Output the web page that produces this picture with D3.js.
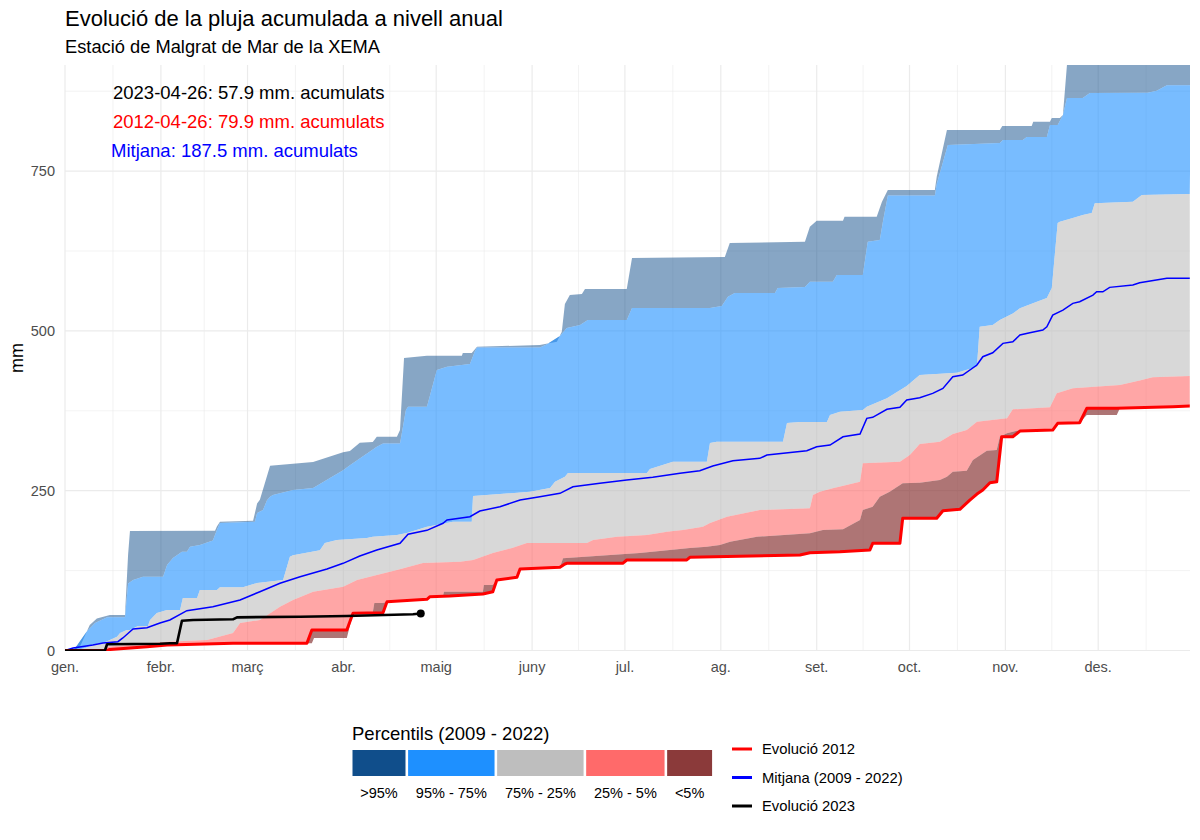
<!DOCTYPE html>
<html>
<head>
<meta charset="utf-8">
<script src="https://cdn.jsdelivr.net/npm/d3@7"></script>
<style>
  body { margin: 0; background: #fff; }
  svg { font-family: "Liberation Sans", Arial, sans-serif; }
</style>
</head>
<body>
<svg id="chart" width="1200" height="840"></svg>
<script>
// Month labels (Catalan) and y ticks
const months = ["gen.", "febr.", "març", "abr.", "maig", "juny", "jul.", "ag.", "set.", "oct.", "nov.", "des."];
const yTicks = [0, 250, 500, 750];
const yMinor = [125, 375, 625, 875];

// Percentile boundaries, [day of year, mm]
const pMax = [[0,0],[3.2,0],[5.0,8],[8.0,40],[10.3,50],[14.5,55.5],[19.4,55.5],[20.4,150],[21.0,187],[48.5,187.5],[49.1,194],[50.1,201.5],[60.8,203],[61.4,215],[62.1,230],[63.0,236],[66.3,289],[80.2,295],[89.9,310],[92.1,312],[95.3,325],[99.5,326],[100.8,334.4],[107.3,334.4],[108.3,345],[109.6,457.5],[117.0,461.1],[128.3,461.1],[128.6,465.4],[131.5,465.4],[133.2,475.2],[153.5,477.9],[159.0,483],[160.6,498.7],[161.6,542],[163.2,556],[167.1,557.6],[168.1,565.5],[181.6,565.5],[183.3,614],[213.3,615.5],[214.9,637.4],[239.2,639.5],[240.8,662.9],[243.0,672.3],[251.5,672.3],[252.0,678.5],[262.4,678.5],[264.1,702],[266.0,720.3],[281.2,720.3],[281.8,741.1],[285.1,814.2],[302.2,814.2],[303.0,820.4],[312.5,820.4],[313.0,827.1],[318.4,827.1],[319.0,833],[321.6,833],[322.6,837.6],[323.9,916],[364,916]];
const p95 = [[0,0],[3.2,3],[7.1,30],[9.7,43],[13.6,52],[19.4,52],[20.4,105],[22.0,110.3],[25.2,115.4],[31.7,115.4],[33.0,133.7],[34.9,144.7],[37.8,154.5],[39.4,154.5],[40.4,162.4],[43.6,165],[47.8,172],[49.1,188.5],[50.1,199.4],[61.4,201.5],[62.1,215.1],[64.0,219.8],[65.3,235],[66.3,240.6],[67.2,243.2],[73.7,251.1],[80.2,254.2],[89.9,282],[92.1,290],[100.8,318.8],[102.8,324],[108.3,324],[110.2,376.2],[110.9,381.4],[117.0,381.4],[120.2,438.8],[123.5,443.9],[130.9,448.1],[132.5,468],[133.2,474],[153.5,474],[155.8,479],[160.0,492],[162.2,504.5],[166.5,509.2],[169.0,517],[181.6,517],[183.3,535.7],[208.5,535.7],[212.3,538.9],[214.3,553.4],[216.5,559.2],[229.5,559.2],[230.4,567],[239.2,568.6],[240.8,576.9],[248.2,576.9],[249.5,587.4],[257.9,587.4],[259.5,639.5],[263.4,642.1],[264.4,670.7],[266.0,712],[281.2,712],[281.8,730],[285.4,790.7],[302.2,793.8],[303.2,798.5],[309.6,798.5],[310.9,803.2],[317.4,803.2],[318.4,822],[320.9,822],[322.6,837.6],[323.9,864.2],[329.0,864.2],[331.3,872.1],[350.0,872.5],[352.9,875.6],[356.2,884.5],[364,884.5]];
const p75 = [[0,0],[3.2,0],[6.5,3.9],[9.0,8.6],[11.3,11.7],[12.3,11.7],[14.5,16.4],[16.8,21.6],[17.8,27.4],[20.0,32.1],[21.0,32.1],[23.6,38.5],[26.8,38.5],[27.5,47.7],[29.7,58.7],[33.0,63.4],[37.2,63.4],[38.1,82.1],[42.7,82.1],[43.6,94.6],[49.1,94.6],[50.1,99],[57.5,99],[62.1,105.6],[70.5,110.3],[72.7,146.7],[73.7,149],[82.4,157],[84.0,168.2],[87.9,172.8],[97.6,176],[99.5,178],[107.3,180.7],[110.5,183.8],[117.0,193.6],[125.4,201.5],[131.5,201.5],[131.9,241.7],[150.3,248.4],[156.8,254.2],[158.4,264],[161.6,271.9],[162.6,277.6],[188.1,277.6],[189.1,283.9],[196.5,295.3],[207.5,295.3],[208.5,324.6],[210.7,326.6],[232.1,326.6],[233.4,355.9],[237.6,357.5],[246.3,357.5],[247.3,368.4],[250.5,373.5],[257.9,376.2],[259.2,381.4],[265.7,394.5],[272.1,413.7],[276.3,430.9],[288.3,434.5],[294.8,443.9],[295.7,506.5],[299.9,509.2],[302.2,517],[306.4,527.4],[308.7,535.3],[312.9,543.1],[317.4,551.4],[319.0,567],[320.9,668.7],[321.6,670.7],[325.8,676.5],[329.0,681.2],[331.9,684.3],[332.9,699.9],[345.2,702],[348.1,712.5],[363.6,714.1]];
const p25 = [[0,0],[12.9,0],[13.6,5.9],[33.0,13.8],[45.9,16.4],[54.3,27.4],[56.6,43],[63.0,47.7],[69.5,68.5],[73.7,79],[80.2,92],[89.9,99.8],[94.4,110.3],[100.8,118.1],[107.3,125.9],[115.7,136.9],[127.7,138.9],[131.9,141.6],[138.3,152.5],[144.5,160.3],[149.3,168.2],[168.7,168.2],[170.7,172.8],[178.4,178],[188.1,180.7],[194.6,185.8],[199.7,188.5],[206.2,193.6],[208.5,199.4],[214.0,209.3],[224.6,219.8],[240.8,222.4],[241.8,243.2],[244.0,248.4],[248.2,253.7],[257.0,264],[257.9,292.8],[269.9,295.3],[273.1,305.8],[276.3,323],[282.8,326.6],[287.0,338.7],[291.5,344.9],[294.8,357.9],[304.5,363.2],[306.4,377.3],[318.4,380.4],[320.6,402.3],[325.8,410.1],[341.0,415.3],[347.4,422.6],[351.6,427.3],[363.6,429.4]];
const p5 = [[0,0],[13.6,0],[14.5,1.5],[26.5,5.9],[33.0,8.6],[54.3,11.3],[78.2,11.3],[79.8,32.1],[91.1,32.1],[93.1,58.2],[99.5,60],[100.0,74.3],[102.8,74.3],[104.1,76.3],[117.0,80.1],[118.0,84.2],[122.2,85.2],[122.5,92],[135.1,92],[135.4,102.5],[138.3,102.5],[139.6,110.3],[146.1,114.5],[147.1,127.5],[160.0,130.1],[161.0,144.2],[185.8,152.5],[202.0,160.3],[207.5,162.4],[211.7,165],[215.0,170.2],[223.7,178],[240.8,183.3],[245.0,188.5],[251.5,189.6],[257.0,204.1],[257.9,219.8],[261.1,225],[263.4,240.6],[266.6,248.4],[270.8,261.5],[276.3,262.5],[282.8,266.7],[285.1,271.9],[287.0,279.7],[291.5,281.2],[293.5,298],[298.0,312.5],[301.2,313.6],[302.2,334.4],[304.5,339.8],[307.7,343.8],[319.3,344.9],[320.9,355.4],[328.0,356.3],[330.3,378.9],[358.1,381.4],[363.6,382.4]];
const pMin = [[0,0],[13.6,0],[14.5,1.5],[26.5,5.9],[33.0,8.6],[54.3,11.3],[79.8,11.3],[80.5,19.6],[91.1,19.6],[93.1,58.2],[102.8,59.1],[104.1,76.3],[117.0,80.1],[118.0,84.2],[124.4,85.2],[135.1,88.4],[138.3,92],[139.6,110.3],[146.1,114.5],[147.1,127.5],[160.0,130.1],[161.6,135.3],[162.2,136.4],[180.3,136.4],[181.6,141.6],[201.0,141.6],[202.0,145.8],[237.6,149.4],[240.8,153],[250.5,154.5],[260.2,157.2],[261.1,167.7],[269.9,167.7],[270.8,206.8],[281.8,206.8],[283.8,218.7],[289.3,220.9],[292.5,235.4],[294.8,244.8],[296.7,251.1],[299.0,262.5],[301.2,264],[302.8,334.4],[306.4,334.4],[308.7,343.3],[319.3,344.9],[320.9,355.4],[328.0,356.3],[330.3,368.4],[340.0,368.4],[341.0,378.9],[358.1,381.4],[363.6,382.4]];

// Lines
const meanLine = [[0,0],[2.6,3.9],[9.0,8.6],[12.3,11.7],[17.1,13.8],[18.7,19.6],[22.0,33.6],[26.5,35.7],[30.7,43],[33.9,47.7],[39.4,62.3],[47.8,68.5],[56.6,79],[63.0,92],[69.5,105.1],[76.0,115.4],[84.7,127.5],[89.9,136.4],[95.3,147.8],[100.8,157.2],[108.3,167.7],[110.9,182],[117.0,188],[122.2,199],[123.5,204.1],[130.9,209.3],[134.1,218.2],[140.6,224.9],[147.1,235.4],[153.5,240.6],[160.0,245.9],[164.2,256.2],[172.9,261.5],[181.6,266.7],[190.0,270.9],[198.8,277.2],[205.2,281.2],[209.4,288.6],[215.9,296.9],[224.6,300.6],[226.9,305.8],[239.8,312.5],[243.0,318.8],[247.3,321.4],[251.5,334.4],[257.0,338.7],[259.2,363.2],[261.1,364.8],[265.7,377.3],[269.9,380.4],[272.1,391.8],[276.3,395.4],[280.5,402.3],[283.8,410.1],[287.0,428.3],[290.2,430.9],[294.8,446.6],[296.7,459.6],[299.9,465.8],[303.2,480.5],[306.4,483],[308.7,493.5],[311.9,497.1],[316.1,501.3],[317.4,506.5],[319.3,524.8],[322.6,532.6],[325.8,543.1],[328.0,545.6],[332.3,556.1],[333.5,561.2],[335.5,561.2],[337.7,568.1],[345.2,571.7],[347.4,575.3],[356.2,582.2],[363.6,582.2]];
const year2012 = [[0,0],[13.6,0],[14.5,1.5],[26.5,5.9],[33.0,8.6],[54.3,11.3],[78.2,11.3],[79.8,32.1],[91.1,32.1],[93.1,58.2],[102.8,59.1],[104.1,76.3],[117.0,80.1],[118.0,84.2],[124.4,85.2],[135.1,88.4],[138.3,92],[139.6,110.3],[146.1,114.5],[147.1,127.5],[160.0,130.1],[161.6,135.3],[162.2,136.4],[180.3,136.4],[181.6,141.6],[201.0,141.6],[202.0,145.8],[237.6,149.4],[240.8,153],[250.5,154.5],[260.2,157.2],[261.1,167.7],[269.9,167.7],[270.8,206.8],[281.8,206.8],[283.8,218.7],[289.3,220.9],[292.5,235.4],[294.8,244.8],[296.7,251.1],[299.0,262.5],[301.2,264],[302.8,334.4],[306.4,334.4],[308.7,343.3],[319.3,344.9],[320.9,355.4],[328.0,356.3],[330.3,378.9],[340.0,378.9],[358.1,381.4],[363.6,382.4]];
const year2023 = [[0,0],[12.9,0],[13.6,9.7],[30.7,10.5],[33.9,11.3],[36.2,11.3],[37.8,46.6],[41.4,47.7],[54.3,48.8],[55.6,51.9],[76.0,52.9],[91.1,54],[112.5,56.6],[115,57.9]];

// Annotations
const notes = ["2023-04-26: 57.9 mm. acumulats", "2012-04-26: 79.9 mm. acumulats", "Mitjana: 187.5 mm. acumulats"];
const noteColors = ["#000000", "#FF0000", "#0000FF"];

// Legend
const bandLabels = [">95%", "95% - 75%", "75% - 25%", "25% - 5%", "<5%"];
const bandColors = ["#104E8B", "#1E90FF", "#BEBEBE", "#FF6A6A", "#8B3A3A"];
const bandAlpha = [0.5, 0.6, 0.6, 0.6, 0.7];
const lineLabels = ["Evolució 2012", "Mitjana (2009 - 2022)", "Evolució 2023"];
const lineColors = ["#FF0000", "#0000FF", "#000000"];

const svg = d3.select("#chart");
const t0 = Date.UTC(2023, 0, 1);
const toDate = d => new Date(t0 + d * 864e5);

// Scales
const x = d3.scaleUtc()
    .domain([new Date(t0), new Date(Date.UTC(2023, 11, 31))])
    .range([65, 1191]);
const y = d3.scaleLinear().domain([0, 916]).range([650.5, 65]);

const panel = { x0: 65, x1: 1190, y0: 65, y1: 651 };

svg.append("defs").append("clipPath").attr("id", "clip")
    .append("rect")
    .attr("x", panel.x0).attr("y", panel.y0)
    .attr("width", panel.x1 - panel.x0).attr("height", panel.y1 - panel.y0);

// Grid
const grid = svg.append("g");
const monthStarts = d3.utcMonths(new Date(t0), new Date(Date.UTC(2024, 0, 2)));
const xMinor = d3.pairs(monthStarts).map(([a, b]) => (x(a) + x(b)) / 2).filter(v => v < panel.x1);

grid.selectAll(".ymin").data(yMinor).join("line")
    .attr("x1", panel.x0).attr("x2", panel.x1)
    .attr("y1", d => y(d)).attr("y2", d => y(d))
    .attr("stroke", "#EBEBEB").attr("stroke-width", 0.6);
grid.selectAll(".xmin").data(xMinor).join("line")
    .attr("x1", d => d).attr("x2", d => d)
    .attr("y1", panel.y0).attr("y2", panel.y1)
    .attr("stroke", "#EBEBEB").attr("stroke-width", 0.6);
grid.selectAll(".ymaj").data(yTicks).join("line")
    .attr("x1", panel.x0).attr("x2", panel.x1)
    .attr("y1", d => y(d)).attr("y2", d => y(d))
    .attr("stroke", "#EBEBEB").attr("stroke-width", 1.2);
grid.selectAll(".xmaj").data(monthStarts.slice(0, 12)).join("line")
    .attr("x1", d => x(d)).attr("x2", d => x(d))
    .attr("y1", panel.y0).attr("y2", panel.y1)
    .attr("stroke", "#EBEBEB").attr("stroke-width", 1.2);

// Bands: upper boundary forward, lower boundary back
const plot = svg.append("g").attr("clip-path", "url(#clip)");
const line = d3.line().x(d => x(toDate(d[0]))).y(d => y(d[1]));
const bands = [[pMax, p95], [p95, p75], [p75, p25], [p25, p5], [p5, pMin]];

bands.forEach(([hi, lo], i) => {
    plot.append("path")
        .attr("d", line(hi.concat(lo.slice().reverse())) + "Z")
        .attr("fill", bandColors[i])
        .attr("fill-opacity", bandAlpha[i]);
});

// Lines
plot.append("path").attr("d", line(meanLine))
    .attr("fill", "none").attr("stroke", "#0000FF").attr("stroke-width", 1.5);
plot.append("path").attr("d", line(year2012))
    .attr("fill", "none").attr("stroke", "#FF0000").attr("stroke-width", 3)
    .attr("stroke-linejoin", "round");
plot.append("path").attr("d", line(year2023))
    .attr("fill", "none").attr("stroke", "#000000").attr("stroke-width", 2.6)
    .attr("stroke-linejoin", "round");
const last = year2023[year2023.length - 1];
svg.append("circle")
    .attr("cx", x(toDate(last[0]))).attr("cy", y(last[1]))
    .attr("r", 4).attr("fill", "#000");

// Axes labels
svg.append("g").selectAll("text").data(yTicks).join("text")
    .attr("x", 55).attr("y", d => y(d) + 5)
    .attr("text-anchor", "end")
    .attr("font-size", "14.5px").attr("fill", "#4D4D4D")
    .text(d => d);

svg.append("g").selectAll("text").data(monthStarts.slice(0, 12)).join("text")
    .attr("x", d => x(d)).attr("y", 672)
    .attr("text-anchor", "middle")
    .attr("font-size", "14.5px").attr("fill", "#4D4D4D")
    .text((d, i) => months[i]);

svg.append("text")
    .attr("transform", "translate(23,358) rotate(-90)")
    .attr("text-anchor", "middle")
    .attr("font-size", "18px").attr("fill", "#000")
    .text("mm");

// Titles
svg.append("text").attr("x", 65).attr("y", 25.5)
    .attr("font-size", "22px").attr("fill", "#000")
    .text("Evolució de la pluja acumulada a nivell anual");
svg.append("text").attr("x", 65).attr("y", 53)
    .attr("font-size", "18.3px").attr("fill", "#000")
    .text("Estació de Malgrat de Mar de la XEMA");

// Annotations
svg.append("g").selectAll("text").data(notes).join("text")
    .attr("x", (d, i) => i === 2 ? 111 : 113)
    .attr("y", (d, i) => 99 + i * 28.8)
    .attr("font-size", "18.5px")
    .attr("fill", (d, i) => noteColors[i])
    .text(d => d);

// Legend: percentile bands
const leg = svg.append("g");
leg.append("text").attr("x", 352).attr("y", 740)
    .attr("font-size", "18.5px").attr("fill", "#000")
    .text("Percentils (2009 - 2022)");

let lx = 352.5;
bandLabels.forEach((lab, i) => {
    const t = leg.append("text")
        .attr("y", 798)
        .attr("text-anchor", "middle")
        .attr("font-size", "14.5px").attr("fill", "#000")
        .text(lab);
    const w = t.node().getComputedTextLength() + 15.5;
    leg.insert("rect", "text")
        .attr("x", lx).attr("y", 750)
        .attr("width", w).attr("height", 26)
        .attr("fill", bandColors[i]);
    t.attr("x", lx + w / 2);
    lx += w + 2.6;
});

// Legend: lines
const lineLeg = svg.append("g");
lineLabels.forEach((lab, i) => {
    const cy = 749 + i * 28.5;
    lineLeg.append("line")
        .attr("x1", 732).attr("x2", 752)
        .attr("y1", cy).attr("y2", cy)
        .attr("stroke", lineColors[i]).attr("stroke-width", 3);
    lineLeg.append("text")
        .attr("x", 762).attr("y", cy + 5)
        .attr("font-size", "14.8px").attr("fill", "#000")
        .text(lab);
});
</script>
</body>
</html>
